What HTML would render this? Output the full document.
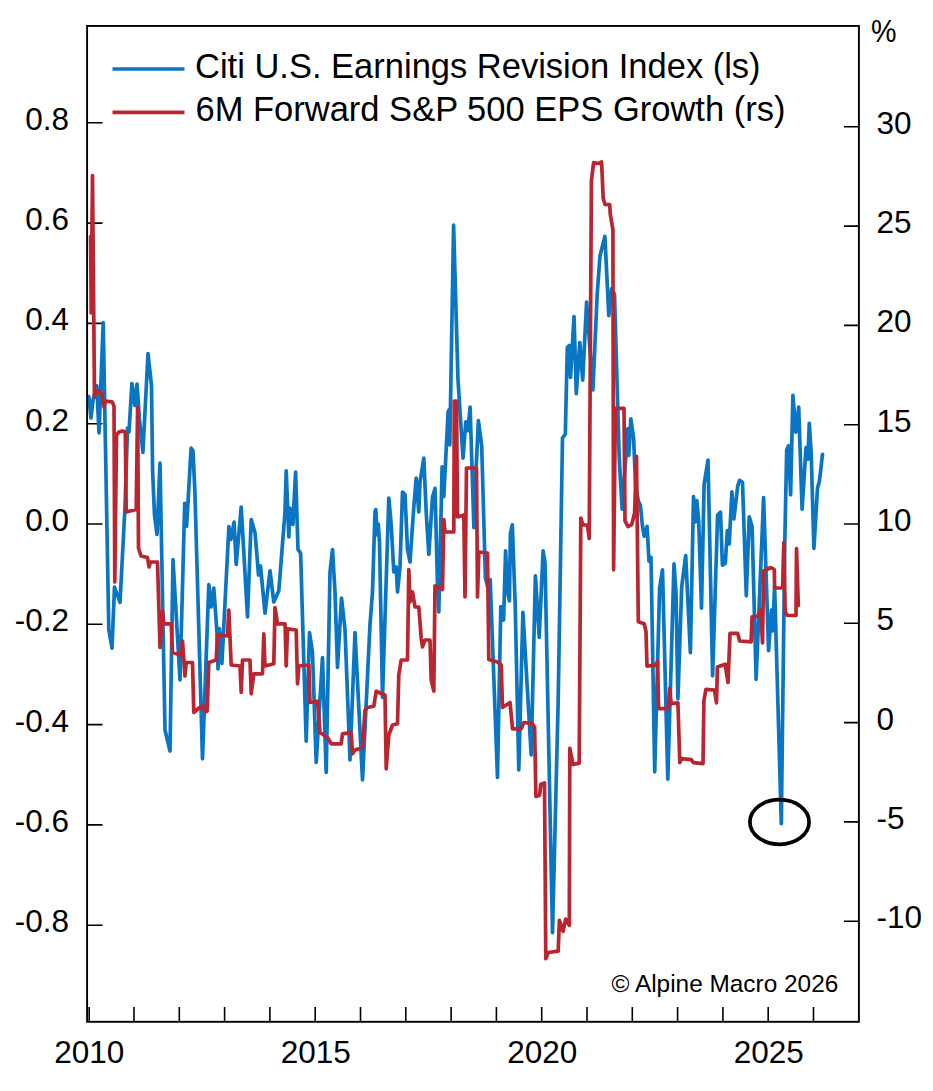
<!DOCTYPE html>
<html><head><meta charset="utf-8"><style>
html,body{margin:0;padding:0;background:#fff;}
svg{display:block;}
</style></head><body>
<svg width="933" height="1091" viewBox="0 0 933 1091">
<rect x="0" y="0" width="933" height="1091" fill="#fff"/>
<path d="M88,122.8H102.5 M88,223.1H102.5 M88,323.4H102.5 M88,423.7H102.5 M88,524.0H102.5 M88,624.3H102.5 M88,724.6H102.5 M88,824.9H102.5 M88,925.2H102.5 M844,126.8H858 M844,226.1H858 M844,325.4H858 M844,424.7H858 M844,524.0H858 M844,623.3H858 M844,722.6H858 M844,821.9H858 M844,921.2H858 M89.2,1007V1021 M134.0,1007V1021 M179.3,1007V1021 M224.6,1007V1021 M269.9,1007V1021 M315.2,1007V1021 M360.5,1007V1021 M405.8,1007V1021 M451.1,1007V1021 M496.4,1007V1021 M541.7,1007V1021 M587.0,1007V1021 M632.3,1007V1021 M677.6,1007V1021 M722.9,1007V1021 M768.2,1007V1021 M813.5,1007V1021" stroke="#000" stroke-width="1.6" fill="none"/>
<path d="M88.8,396.6 L91.0,418.0 L93.0,400.0 L96.8,385.8 L99.0,433.0 L103.2,322.5 L108.8,629.5 L112.0,648.2 L114.5,587.0 L120.0,602.5 L125.0,507.0 L127.5,428.0 L129.0,432.0 L131.9,383.5 L134.8,405.5 L137.0,384.2 L139.5,420.0 L142.9,452.4 L148.0,353.5 L151.5,385.8 L152.6,471.0 L154.5,515.0 L157.0,534.5 L160.0,463.2 L165.0,730.0 L170.0,751.0 L173.0,559.5 L180.0,680.0 L184.7,503.4 L186.6,526.5 L191.1,448.2 L193.0,450.8 L194.9,491.9 L202.5,758.8 L208.8,584.5 L211.2,607.0 L213.8,588.2 L217.0,633.0 L218.0,669.0 L219.4,628.6 L221.9,663.4 L228.9,526.5 L230.9,539.4 L234.1,522.0 L236.2,564.5 L241.2,507.0 L247.5,617.0 L251.2,519.5 L255.0,532.7 L257.0,555.8 L258.5,575.0 L260.5,566.0 L265.0,613.2 L270.0,570.8 L273.8,602.0 L278.8,590.8 L285.0,512.0 L286.2,470.8 L288.8,537.0 L290.0,508.2 L292.9,524.4 L295.6,472.0 L298.0,549.4 L300.6,553.2 L306.2,741.2 L309.5,632.5 L312.5,652.5 L316.2,762.5 L322.5,657.5 L326.2,772.5 L330.0,572.0 L332.5,549.5 L335.0,592.0 L337.5,667.5 L341.5,598.0 L345.0,629.5 L350.0,760.0 L355.0,632.5 L362.5,780.0 L370.0,624.5 L372.5,592.0 L375.0,512.0 L375.8,509.6 L377.1,535.0 L378.3,524.0 L379.5,542.0 L382.5,697.5 L388.8,498.2 L391.2,524.5 L393.8,572.0 L396.2,567.0 L397.5,592.0 L400.0,567.0 L402.5,492.0 L405.0,494.5 L407.5,549.5 L410.0,562.0 L413.8,507.0 L416.2,478.2 L418.8,512.0 L420.0,482.0 L423.8,458.2 L426.2,512.0 L428.8,554.5 L432.5,497.0 L435.0,488.4 L437.5,584.5 L438.8,612.0 L442.1,466.9 L443.8,496.6 L448.1,411.9 L449.2,409.7 L449.8,444.9 L453.6,225.2 L458.0,380.0 L463.0,458.1 L465.8,421.8 L467.9,430.6 L470.1,407.0 L473.9,527.7 L476.2,465.8 L478.4,420.7 L481.7,446.0 L485.4,577.7 L489.2,593.0 L490.2,579.6 L497.5,777.5 L500.8,606.5 L503.6,620.0 L505.6,550.8 L507.5,591.2 L509.4,600.8 L510.4,533.5 L512.3,524.8 L515.2,604.6 L518.8,770.0 L522.9,612.3 L531.2,755.0 L535.4,575.8 L539.2,637.3 L543.1,550.8 L545.0,562.3 L552.5,932.7 L558.2,700.0 L562.5,438.0 L565.3,434.2 L567.3,347.4 L569.2,345.4 L570.5,377.3 L574.0,316.5 L576.3,393.7 L579.8,342.5 L582.7,380.2 L586.6,302.0 L592.9,389.8 L597.2,294.3 L600.0,255.8 L604.9,236.5 L608.8,315.6 L611.6,288.6 L614.5,294.3 L619.2,457.3 L622.1,509.2 L627.9,428.5 L628.8,455.4 L630.8,418.8 L633.6,438.0 L635.6,486.2 L638.5,501.5 L640.4,505.4 L642.3,524.6 L644.2,536.2 L647.1,526.5 L649.0,561.2 L651.0,557.3 L654.7,771.8 L659.6,588.0 L662.5,569.8 L667.8,779.2 L674.0,563.9 L676.0,592.8 L677.9,698.9 L681.7,587.0 L685.7,555.5 L690.4,652.6 L693.5,496.7 L695.5,522.0 L696.8,500.5 L698.7,521.0 L701.5,608.2 L704.1,484.2 L708.0,460.0 L712.6,675.8 L717.6,515.0 L720.5,512.2 L722.4,565.2 L725.3,563.3 L727.3,530.5 L729.2,544.0 L731.9,491.9 L733.9,518.8 L737.7,486.2 L739.6,480.4 L742.5,482.3 L746.3,595.8 L749.2,516.9 L752.1,526.5 L756.1,679.3 L763.6,497.7 L768.6,650.7 L771.5,610.0 L772.6,631.0 L774.6,586.0 L781.3,823.6 L784.8,541.9 L786.7,449.6 L788.6,445.8 L790.6,494.8 L792.9,395.4 L795.8,432.1 L798.7,407.0 L802.1,509.2 L806.0,447.7 L807.9,459.2 L809.3,423.4 L811.2,453.3 L813.9,548.5 L817.5,488.1 L819.4,481.3 L822.5,454.4" fill="none" stroke="#0a75c3" stroke-width="3.7" stroke-linejoin="round" stroke-linecap="round"/>
<path d="M90.6,236.5 L91.2,313.0 L92.5,175.5 L94.5,397.0 L96.0,391.6 L99.6,391.6 L101.8,394.0 L103.0,400.0 L104.0,407.0 L105.5,401.0 L112.0,401.8 L114.0,406.0 L114.8,582.0 L116.5,435.0 L119.0,432.0 L122.4,431.0 L125.3,432.0 L126.2,512.0 L136.2,509.5 L137.6,407.3 L138.5,548.0 L141.0,556.0 L147.5,557.5 L149.0,567.0 L150.5,562.0 L157.5,562.0 L160.0,647.5 L162.5,611.0 L163.8,623.8 L171.2,623.8 L172.5,652.5 L181.2,655.0 L182.5,641.0 L185.0,676.0 L186.2,662.5 L192.5,662.5 L193.8,712.5 L199.0,708.0 L203.0,706.0 L205.5,712.0 L207.2,711.0 L208.8,662.5 L216.2,660.0 L217.5,635.0 L227.5,636.0 L228.8,610.0 L231.2,665.0 L240.0,666.0 L241.2,692.5 L242.5,660.0 L250.0,660.0 L251.2,693.8 L253.8,673.8 L262.5,673.8 L263.8,633.8 L265.0,666.0 L273.8,663.8 L275.0,607.5 L277.5,623.8 L285.0,623.8 L286.2,666.0 L287.5,628.8 L296.2,630.0 L297.5,683.8 L298.8,666.0 L308.8,665.0 L310.0,702.5 L317.5,701.2 L320.0,732.5 L327.5,737.5 L331.2,743.8 L341.2,743.8 L342.5,733.8 L351.2,732.5 L352.5,753.8 L355.0,750.0 L362.5,747.5 L365.0,710.0 L367.5,707.5 L373.8,706.2 L376.2,691.2 L385.0,695.0 L386.2,768.8 L388.8,735.0 L392.5,725.0 L397.5,723.8 L398.8,675.0 L401.2,660.0 L407.5,660.0 L408.8,569.5 L410.0,602.0 L412.5,592.0 L415.0,607.0 L418.8,607.0 L421.2,638.2 L422.5,647.0 L425.0,640.0 L430.0,640.0 L431.2,680.0 L433.8,691.2 L435.0,585.8 L442.5,589.5 L443.8,519.5 L445.0,532.0 L453.8,532.0 L454.3,401.0 L456.5,401.0 L457.5,517.0 L463.8,515.0 L465.0,597.0 L466.5,468.0 L476.5,468.0 L477.5,597.0 L478.8,552.0 L487.5,553.0 L488.8,659.5 L497.5,662.0 L501.2,665.0 L502.5,707.5 L510.0,702.5 L512.5,728.8 L521.2,728.8 L523.8,722.5 L532.2,723.5 L534.6,727.2 L535.9,796.5 L539.6,795.3 L540.8,784.2 L544.5,783.0 L545.8,958.7 L548.3,952.5 L558.2,951.2 L559.4,920.3 L563.1,931.4 L565.6,919.0 L569.3,925.2 L569.8,748.3 L573.0,764.4 L579.2,763.1 L580.8,518.1 L583.0,525.0 L587.5,525.0 L589.2,538.5 L591.4,181.0 L593.6,162.5 L598.4,163.5 L601.6,162.0 L603.2,198.5 L605.0,204.5 L609.7,204.7 L610.3,214.5 L612.9,229.5 L613.6,569.8 L615.4,408.3 L624.0,408.3 L625.0,520.8 L627.9,526.5 L631.7,524.6 L634.6,513.0 L636.5,456.3 L638.3,621.7 L644.1,623.7 L646.0,631.4 L647.0,666.1 L655.7,665.2 L657.6,661.3 L658.6,708.6 L668.2,708.6 L669.8,688.3 L671.1,703.7 L677.9,702.8 L679.8,762.6 L681.7,758.7 L691.4,759.7 L693.3,762.6 L703.0,763.6 L703.9,700.8 L705.9,689.3 L714.5,690.2 L716.5,702.8 L717.4,667.1 L725.2,664.2 L728.0,682.5 L730.0,633.3 L737.7,633.3 L739.6,641.0 L751.1,641.9 L752.1,616.9 L758.9,616.0 L760.8,609.2 L762.5,643.0 L763.6,571.0 L771.0,567.5 L774.3,569.5 L774.6,588.0 L782.6,588.0 L783.8,542.5 L785.2,612.0 L787.5,615.5 L796.0,615.5 L796.5,548.5 L798.3,605.4" fill="none" stroke="#ba2530" stroke-width="3.7" stroke-linejoin="round" stroke-linecap="round"/>
<rect x="87.1" y="25.95" width="771.8" height="995.85" fill="none" stroke="#000" stroke-width="1.9"/>
<g font-family="'Liberation Sans', sans-serif" font-size="31.5" fill="#000">
<text x="69" y="129.8" text-anchor="end">0.8</text>
<text x="69" y="230.1" text-anchor="end">0.6</text>
<text x="69" y="330.4" text-anchor="end">0.4</text>
<text x="69" y="430.7" text-anchor="end">0.2</text>
<text x="69" y="531.0" text-anchor="end">0.0</text>
<text x="69" y="631.3" text-anchor="end">-0.2</text>
<text x="69" y="731.6" text-anchor="end">-0.4</text>
<text x="69" y="831.9" text-anchor="end">-0.6</text>
<text x="69" y="932.2" text-anchor="end">-0.8</text>
<text x="876.5" y="133.8">30</text>
<text x="876.5" y="233.1">25</text>
<text x="876.5" y="332.4">20</text>
<text x="876.5" y="431.7">15</text>
<text x="876.5" y="531.0">10</text>
<text x="876.5" y="630.3">5</text>
<text x="876.5" y="729.6">0</text>
<text x="876.5" y="828.9">-5</text>
<text x="876.5" y="928.2">-10</text>
<text x="89.2" y="1063" text-anchor="middle">2010</text>
<text x="315.7" y="1063" text-anchor="middle">2015</text>
<text x="542.2" y="1063" text-anchor="middle">2020</text>
<text x="768.7" y="1063" text-anchor="middle">2025</text>
</g>
<text transform="translate(871,41.8) scale(0.91,1)" font-family="'Liberation Sans', sans-serif" font-size="31.5" fill="#000">%</text>
<path d="M112.5,69H184.5" stroke="#0a75c3" stroke-width="3.6"/>
<path d="M112.5,112.4H184.5" stroke="#ba2530" stroke-width="3.6"/>
<g font-family="'Liberation Sans', sans-serif" font-size="34.5" fill="#000">
<text x="195" y="77.9">Citi U.S. Earnings Revision Index (ls)</text>
<text x="195.5" y="120.5">6M Forward S&amp;P 500 EPS Growth (rs)</text>
</g>
<text x="611.5" y="991.5" font-family="'Liberation Sans', sans-serif" font-size="24.4" fill="#000">© Alpine Macro 2026</text>
<ellipse cx="779.5" cy="822" rx="29.6" ry="22.3" fill="none" stroke="#000" stroke-width="3.7"/>
</svg>
</body></html>
